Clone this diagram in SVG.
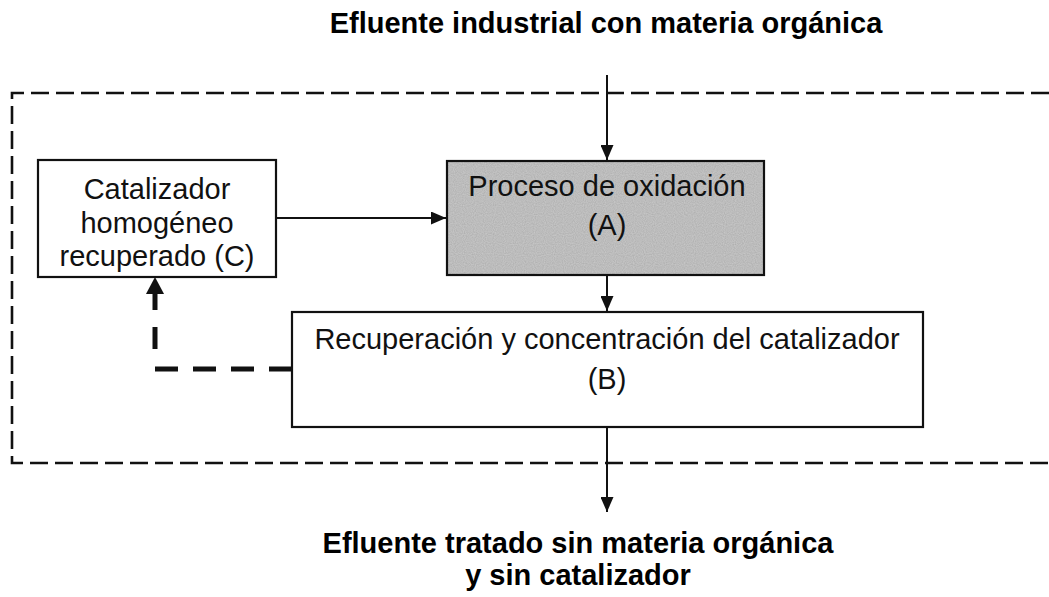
<svg xmlns="http://www.w3.org/2000/svg" width="1049" height="597" viewBox="0 0 1049 597">
  <style>
    .box { fill: #ffffff; stroke: #111111; stroke-width: 2.2; }
    .boxA { fill: #c8c8c8; stroke: none; }
    .lbl { font-family: "Liberation Sans", Arial, sans-serif; font-size: 29px; fill: #111111; text-anchor: middle; }
    .ttl { font-family: "Liberation Sans", Arial, sans-serif; font-size: 29px; font-weight: bold; fill: #000000; text-anchor: middle; }
    .conn { stroke: #111111; stroke-width: 2; fill: none; }
    .bound { stroke: #111111; stroke-width: 2.6; fill: none; stroke-dasharray: 18 7; }
    .fb { stroke: #111111; stroke-width: 5; fill: none; }
  </style>
  <defs>
    <marker id="ah" markerUnits="userSpaceOnUse" markerWidth="15" markerHeight="13" refX="15" refY="6.5" orient="auto">
      <path d="M0,0 L15,6.5 L0,13 z" fill="#111111"/>
    </marker>
    <filter id="grain" x="0" y="0" width="1" height="1">
      <feTurbulence type="fractalNoise" baseFrequency="0.9" numOctaves="1" seed="3" result="n"/>
      <feColorMatrix in="n" type="matrix" values="0 0 0 0 0  0 0 0 0 0  0 0 0 0 0  0 0 0 0.35 -0.05" result="dots"/>
      <feComposite in="dots" in2="SourceGraphic" operator="in" result="d2"/>
      <feMerge><feMergeNode in="SourceGraphic"/><feMergeNode in="d2"/></feMerge>
    </filter>
  </defs>

  <g id="boundary">
    <path class="bound" d="M1049 93 H12 V463 H1049"/>
  </g>

  <g id="title-in">
    <text class="ttl" x="606" y="33">Efluente industrial con materia orgánica</text>
  </g>

  <g id="node-C">
    <rect class="box" x="38" y="160" width="238" height="117"/>
    <text class="lbl" x="157" y="199">Catalizador</text>
    <text class="lbl" x="157" y="233">homogéneo</text>
    <text class="lbl" x="157" y="266">recuperado (C)</text>
  </g>

  <g id="node-A">
    <rect class="boxA" x="447" y="161" width="317" height="114" filter="url(#grain)"/>
    <rect x="447" y="161" width="317" height="114" fill="none" stroke="#111111" stroke-width="2.2"/>
    <text class="lbl" x="607" y="196">Proceso de oxidación</text>
    <text class="lbl" x="607" y="235">(A)</text>
  </g>

  <g id="node-B">
    <rect class="box" x="292" y="312" width="631" height="115"/>
    <text class="lbl" x="607" y="349">Recuperación y concentración del catalizador</text>
    <text class="lbl" x="607" y="389">(B)</text>
  </g>

  <g id="title-out">
    <text class="ttl" x="578" y="553">Efluente tratado sin materia orgánica</text>
    <text class="ttl" x="578" y="585">y sin catalizador</text>
  </g>

  <g id="connectors">
    <line class="conn" x1="607" y1="75" x2="607" y2="160" marker-end="url(#ah)"/>
    <line class="conn" x1="276" y1="218" x2="446" y2="218" marker-end="url(#ah)"/>
    <line class="conn" x1="607" y1="275" x2="607" y2="311" marker-end="url(#ah)"/>
    <line class="conn" x1="607" y1="427" x2="607" y2="512" marker-end="url(#ah)"/>
    <line class="fb" x1="292" y1="369" x2="153" y2="369" stroke-dasharray="23 15"/>
    <line class="fb" x1="155" y1="349" x2="155" y2="327"/>
    <line class="fb" x1="155" y1="310" x2="155" y2="290"/>
    <path d="M146 294 L155 277 L164 294 z" fill="#111111"/>
  </g>
</svg>
